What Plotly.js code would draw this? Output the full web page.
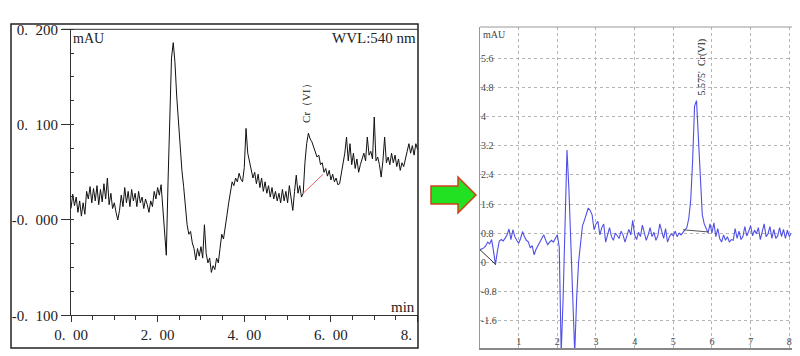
<!DOCTYPE html>
<html><head><meta charset="utf-8">
<script src="https://cdn.plot.ly/plotly-3.0.1.min.js"></script>
<style>html,body{margin:0;padding:0;background:#fff}#chart{width:800px;height:356px}</style>
</head><body><div id="chart"></div>
<script>
// ---- Left chromatogram (mAU vs min), sampled every 0.04 min from 0 ----
const leftStart = 0, leftStep = 0.04;
const leftY = [
 .012,.027,.015,.024,.008,.020,.004,.018,.006,.030,
 .022,.035,.018,.033,.020,.036,.016,.032,.019,.038,
 .022,.044,.016,.028,.012,.018,.008,.000,.010,.026,
 .014,.034,.018,.030,.014,.032,.020,.028,.014,.030,
 .018,.024,.012,.022,.016,.008,.020,.014,.030,.022,
 .034,.026,.037,
 .010,-.015,-.037,.040,.120,.170,.186,
 .165,.130,.100,.075,.052,.035,.012,-.005,-.015,-.012,
 -.024,-.030,-.042,-.030,-.038,-.028,-.040,-.005,-.035,-.045,
 -.040,-.055,-.048,-.052,-.040,-.045,-.030,-.015,-.020,-.005,
 .005,.018,.030,.040,.036,.044,.040,.049,.043,.040,
 .055,.096,.070,.060,.052,.044,.050,.038,.048,.034,
 .044,.030,.040,.028,.036,.024,.034,.022,.030,.020,
 .028,.018,.032,.020,.030,.018,.036,.020,.010,.030,
 .047,.028,.036,.024,.028,.060,.080,.091,.085,.082,
 .076,.072,.066,.068,.058,.060,.050,.054,.046,.052,
 .042,.048,.040,.044,.037,.038,.048,.060,.070,.087,
 .062,.080,.058,.070,.054,.064,.050,.058,.064,.070,
 .062,.087,.068,.072,.064,.108,.062,.066,.058,.045,
 .062,.087,.060,.066,.058,.070,.060,.068,.056,.064,
 .052,.060,.056,.066,.072,.080,.070,.078,.068,.080,
 .074
];
const leftBaseX = [5.36, 5.82];
const leftBaseY = [0.028, 0.048];
const leftYTicks = [-0.1, 0, 0.1, 0.2];
const leftYLabels = ["-0.\u2002100", "-0.\u2002000", "0.\u2002100", "0.\u2002200"];
const leftXTicks = [0, 2, 4, 6, 8];
const leftXLabels = ["0.\u200200", "2.\u200200", "4.\u200200", "6.\u200200", "8.\u200200"];

// ---- Right chromatogram, sampled every 0.05 min from 0 ----
const rightStart = 0, rightStep = 0.05;
const rightY = [
 .34,.36,.39,.45,.55,.50,.62,.30,-.07,.30,
 .58,.62,.58,.66,.75,.91,.62,.89,.70,.60,
 .52,.65,.84,.70,.60,.56,.39,.45,.20,.35,
 .45,.55,.65,.75,.60,.48,.55,.60,.55,.65,
 .75,.40,-2.5,-1.0,1.5,3.09,2.0,.5,-1.2,-2.5,
 -1.0,0,.5,1.0,1.15,1.3,1.49,1.42,1.30,.89,
 1.05,1.12,.75,.95,1.05,.55,.75,.95,.70,.60,
 .80,.72,.65,.85,.75,.55,.70,.90,.75,1.15,
 .75,.62,.82,.70,1.02,.80,.60,.75,.95,.70,
 .82,.60,.72,1.05,.85,.65,.92,.55,.70,.78,
 .72,.85,.70,.80,.75,.82,.90,.95,1.20,1.70,
 2.8,4.3,4.45,3.3,2.2,1.3,1.05,.92,.80,1.05,
 .80,1.08,.70,.92,.65,.55,.75,.60,.70,.55,
 .62,.60,.92,.65,.85,.62,.70,.98,.72,.85,
 1.00,.72,.88,.78,.95,.62,.80,1.05,.70,.78,
 .98,.65,.90,.65,.72,.95,.70,.90,.65,.88,
 .70,.80
];
const rightBase1X = [0, 0.41], rightBase1Y = [0.34, -0.07];
const rightBase2X = [5.25, 5.90], rightBase2Y = [0.89, 0.83];
const rightYTicks = [-1.6, -0.8, 0, 0.8, 1.6, 2.4, 3.2, 4, 4.8, 5.6];
const rightYLabels = ["-1.6", "-0.8", "0", "0.8", "1.6", "2.4", "3.2", "4", "4.8", "5.6"];
const rightXTicks = [1, 2, 3, 4, 5, 6, 7, 8];
const rightXLabels = ["1", "2", "3", "4", "5", "6", "7", "8"];

// pixel -> paper helpers (layout geometry only)
const W = 800, H = 356;
const px = v => v / W, py = v => 1 - v / H;
const SERIF = '"Liberation Serif", "DejaVu Serif", serif';

const traces = [
  {x0: leftStart, dx: leftStep, y: leftY, type: 'scatter', mode: 'lines',
   line: {color: '#111', width: 1}, xaxis: 'x', yaxis: 'y', hoverinfo: 'skip'},
  {x: leftBaseX, y: leftBaseY, type: 'scatter', mode: 'lines',
   line: {color: '#f06060', width: 1}, xaxis: 'x', yaxis: 'y'},
  {x0: rightStart, dx: rightStep, y: rightY, type: 'scatter', mode: 'lines',
   line: {color: '#5050e6', width: 1.1}, xaxis: 'x2', yaxis: 'y2'},
  {x: rightBase1X, y: rightBase1Y, type: 'scatter', mode: 'lines',
   line: {color: '#333', width: 1}, xaxis: 'x2', yaxis: 'y2'},
  {x: rightBase2X, y: rightBase2Y, type: 'scatter', mode: 'lines',
   line: {color: '#555', width: 1}, xaxis: 'x2', yaxis: 'y2'}
];

const layout = {
  width: W, height: H, margin: {l: 0, r: 0, t: 0, b: 0},
  paper_bgcolor: '#fff', plot_bgcolor: 'rgba(0,0,0,0)', showlegend: false,
  font: {family: SERIF, color: '#222'},
  xaxis: {domain: [px(71), px(418)], range: [0, 8.01], anchor: 'y',
    tickvals: leftXTicks, ticktext: leftXLabels, ticks: 'outside', ticklen: 6,
    tickcolor: '#333', tickfont: {family: SERIF, size: 15, color: '#222'},
    minor: {dtick: 0.5, tick0: 0, ticks: 'outside', ticklen: 4, tickcolor: '#333', showgrid: false},
    showline: true, linecolor: '#333', linewidth: 1, showgrid: false, zeroline: false},
  yaxis: {domain: [py(315.3), py(29.3)], range: [-0.1, 0.2], anchor: 'x',
    tickvals: leftYTicks, ticktext: leftYLabels, ticks: 'outside', ticklen: 9,
    tickcolor: '#333', tickfont: {family: SERIF, size: 15, color: '#222'},
    minor: {dtick: 0.025, tick0: 0, ticks: 'inside', ticklen: 3, tickcolor: '#333', showgrid: false},
    showline: true, linecolor: '#333', linewidth: 1, showgrid: false, zeroline: false},
  xaxis2: {domain: [px(480), px(792)], range: [0, 8.07], anchor: 'y2',
    tickvals: rightXTicks, ticktext: rightXLabels, ticks: '', ticklabelstandoff: 0,
    ticklabelposition: 'inside', tickfont: {family: SERIF, size: 10, color: '#444'},
    showgrid: true, gridcolor: '#b5b5b5', griddash: 'dot', gridwidth: 1,
    showline: true, linecolor: '#888', linewidth: 1.5, zeroline: false},
  yaxis2: {domain: [py(348), py(27)], range: [-2.37, 6.48], anchor: 'x2',
    tickvals: rightYTicks, ticktext: rightYLabels, ticks: '',
    ticklabelposition: 'inside', tickfont: {family: SERIF, size: 10, color: '#444'},
    showgrid: true, gridcolor: '#b5b5b5', griddash: 'dot', gridwidth: 1,
    showline: true, linecolor: '#999', linewidth: 1, zeroline: false},
  shapes: [
    // cover the part of the left figure beyond its frame
    {type: 'rect', xref: 'paper', yref: 'paper', x0: px(418.5), x1: px(445), y0: py(350), y1: py(300),
     fillcolor: '#fff', line: {width: 0}, layer: 'above'},
    // left outer frame
    {type: 'rect', xref: 'paper', yref: 'paper', x0: px(11), x1: px(418), y0: py(348), y1: py(24),
     line: {color: '#222', width: 1.5}, layer: 'above'},
    // left plot top line
    {type: 'line', xref: 'paper', yref: 'paper', x0: px(62), x1: px(418), y0: py(29.3), y1: py(29.3),
     line: {color: '#333', width: 1}},
    // right plot top line
    {type: 'line', xref: 'paper', yref: 'paper', x0: px(480), x1: px(792), y0: py(27), y1: py(27),
     line: {color: '#999', width: 1}},
    // green arrow
    {type: 'path', xref: 'paper', yref: 'paper',
     path: `M ${px(431)} ${py(186)} L ${px(458)} ${py(186)} L ${px(458)} ${py(177)} L ${px(476)} ${py(195)} L ${px(458)} ${py(213)} L ${px(458)} ${py(204)} L ${px(431)} ${py(204)} Z`,
     fillcolor: '#22e022', line: {color: '#d0401a', width: 1.5}}
  ],
  annotations: [
    {xref: 'paper', yref: 'paper', x: px(71), y: py(38), xanchor: 'left', yanchor: 'middle',
     text: 'mAU', showarrow: false, font: {family: SERIF, size: 14, color: '#222'}},
    {xref: 'paper', yref: 'paper', x: px(330), y: py(38), xanchor: 'left', yanchor: 'middle',
     text: 'WVL:540 nm', showarrow: false, font: {family: SERIF, size: 15, color: '#222'}},
    {xref: 'paper', yref: 'paper', x: px(417), y: py(307), xanchor: 'right', yanchor: 'middle',
     text: 'min', showarrow: false, font: {family: SERIF, size: 15, color: '#222'}},
    {xref: 'x', yref: 'y', x: 5.42, y: 0.100, xanchor: 'center', yanchor: 'bottom', textangle: -90,
     text: 'Cr（VI）', showarrow: false, font: {family: SERIF, size: 11, color: '#222'}},
    {xref: 'paper', yref: 'paper', x: px(481), y: py(34), xanchor: 'left', yanchor: 'middle',
     text: 'mAU', showarrow: false, font: {family: SERIF, size: 10, color: '#444'}},
    {xref: 'x2', yref: 'y2', x: 5.74, y: 4.55, xanchor: 'center', yanchor: 'bottom', textangle: -90,
     text: "5.575'  Cr(VI)", showarrow: false, font: {family: SERIF, size: 10, color: '#222'}}
  ]
};

Plotly.newPlot('chart', traces, layout, {staticPlot: true, displayModeBar: false});
</script></body></html>
